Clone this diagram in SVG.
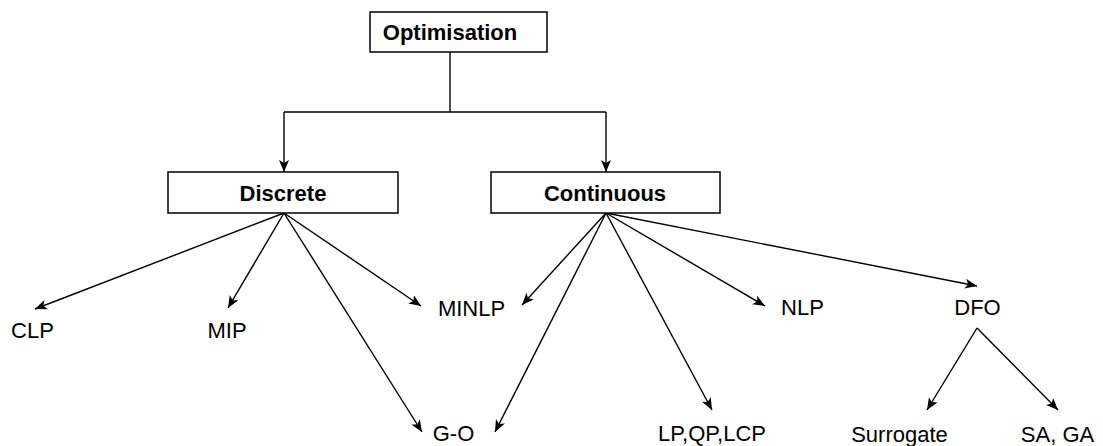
<svg xmlns="http://www.w3.org/2000/svg" width="1103" height="446" viewBox="0 0 1103 446">
<style>
.box{fill:#fff;stroke:#000;stroke-width:1.5}
.bt{font-family:"Liberation Sans",Arial,sans-serif;font-weight:bold;font-size:22px;text-anchor:middle}
.lt{font-family:"Liberation Sans",Arial,sans-serif;font-size:22px;text-anchor:middle}
.c{fill:none;stroke:#000;stroke-width:1.4}
</style>
<defs>
<marker id="ah" markerUnits="userSpaceOnUse" markerWidth="14" markerHeight="12" refX="12" refY="5" orient="auto" viewBox="0 0 14 12">
<path d="M0,0 L12,5 L0,10 L3,5 z" fill="#000"/>
</marker>
</defs>
<g id="connectors">
<path class="c" d="M450,52 V112"/>
<path class="c" d="M284,112 H606"/>
<path class="c" d="M284,112 V172" marker-end="url(#ah)"/>
<path class="c" d="M606,112 V172" marker-end="url(#ah)"/>
<path class="c" d="M284,213 L35,309" marker-end="url(#ah)"/>
<path class="c" d="M284,213 L228,308" marker-end="url(#ah)"/>
<path class="c" d="M284,213 L421,306" marker-end="url(#ah)"/>
<path class="c" d="M284,213 L422,432" marker-end="url(#ah)"/>
<path class="c" d="M606,213 L522,305" marker-end="url(#ah)"/>
<path class="c" d="M606,213 L495,432" marker-end="url(#ah)"/>
<path class="c" d="M606,213 L712,410" marker-end="url(#ah)"/>
<path class="c" d="M606,213 L765,306" marker-end="url(#ah)"/>
<path class="c" d="M606,213 L977,286" marker-end="url(#ah)"/>
<path class="c" d="M977,328 L927,410" marker-end="url(#ah)"/>
<path class="c" d="M977,328 L1058,410" marker-end="url(#ah)"/>
</g>
<g id="optimisation"><rect class="box" x="370" y="12" width="177" height="40"/><text class="bt" x="450" y="40">Optimisation</text></g>
<g id="discrete"><rect class="box" x="168" y="172" width="230" height="41"/><text class="bt" x="283" y="201">Discrete</text></g>
<g id="continuous"><rect class="box" x="491" y="172" width="229" height="41"/><text class="bt" x="605" y="201">Continuous</text></g>
<g id="clp"><text class="lt" x="32.5" y="338">CLP</text></g>
<g id="mip"><text class="lt" x="227" y="338">MIP</text></g>
<g id="minlp"><text class="lt" x="471.5" y="316">MINLP</text></g>
<g id="nlp"><text class="lt" x="802.5" y="315">NLP</text></g>
<g id="dfo"><text class="lt" x="977.5" y="315">DFO</text></g>
<g id="go"><text class="lt" x="453.5" y="441">G-O</text></g>
<g id="lpqplcp"><text class="lt" x="712" y="441">LP,QP,LCP</text></g>
<g id="surrogate"><text class="lt" x="899.5" y="442">Surrogate</text></g>
<g id="sagA"><text class="lt" x="1057.5" y="442">SA, GA</text></g>
</svg>
